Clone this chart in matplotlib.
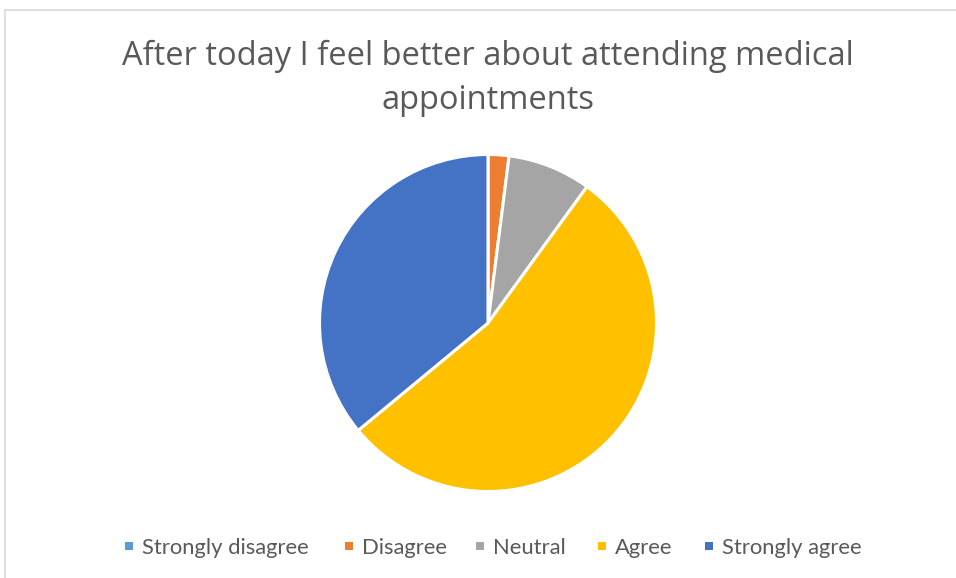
import matplotlib
matplotlib.use("Agg")
import matplotlib.pyplot as plt
from matplotlib.lines import Line2D
from matplotlib.patches import Rectangle

categories = ["Strongly disagree", "Disagree", "Neutral", "Agree", "Strongly agree"]
percents = [0, 2, 8, 54, 36]
colors = ["#5B9BD5", "#ED7D31", "#A5A5A5", "#FFC000", "#4472C4"]
title = "After today I feel better about attending medical\nappointments"

W, H = 956, 578
fig = plt.figure(figsize=(W / 100, H / 100), dpi=100)
fig.patch.set_facecolor("white")

# chart frame (top and left border lines)
fig.add_artist(Line2D([4.5 / W, 1], [1 - 9.5 / H, 1 - 9.5 / H], color="#D9D9D9", lw=1.2,
                      transform=fig.transFigure))
fig.add_artist(Line2D([4.5 / W, 4.5 / W], [0, 1 - 9.5 / H], color="#D9D9D9", lw=1.2,
                      transform=fig.transFigure))

cx, cy, r = 488, 323, 168.5
ax = fig.add_axes([(cx - r) / W, (H - cy - r) / H, 2 * r / W, 2 * r / H])
ax.pie(percents, colors=colors, startangle=90, counterclock=False, radius=1,
       wedgeprops=dict(edgecolor="white", linewidth=2.2))
ax.set_xlim(-1, 1)
ax.set_ylim(-1, 1)
ax.set_aspect("equal")
ax.axis("off")

fig.text(488 / W, 1 - 78 / H, title, ha="center", va="center", fontsize=23.5,
         color="#595959", family="Open Sans", linespacing=1.44)

# legend row: small square marker followed by the category name
marker_x = [125, 345, 476, 598, 705]
legend_y = 546
sq = 8
for x, c, name in zip(marker_x, colors, categories):
    fig.add_artist(Rectangle((x / W, (H - legend_y - sq / 2) / H), sq / W, sq / H,
                             facecolor=c, edgecolor="none", transform=fig.transFigure))
    fig.text((x + sq + 9) / W, 1 - legend_y / H, name, ha="left", va="center_baseline",
             fontsize=15.8, color="#595959", family="Lato")

fig.savefig("out.png", dpi=100)
